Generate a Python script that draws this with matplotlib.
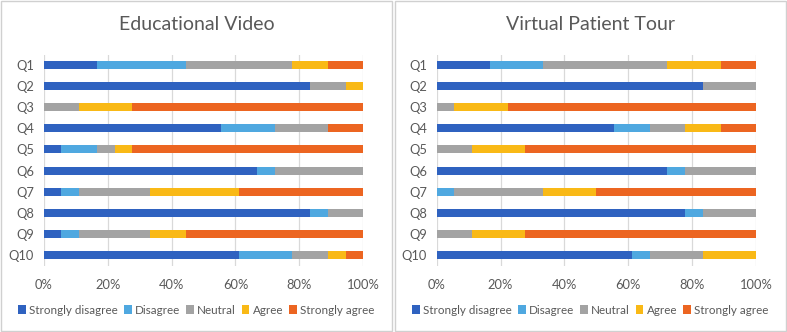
import numpy as np
import matplotlib
matplotlib.use("Agg")
import matplotlib.pyplot as plt
from matplotlib.patches import Rectangle
from matplotlib import ticker

plt.rcParams["font.family"] = ["Lato", "DejaVu Sans"]

questions = ["Q1", "Q2", "Q3", "Q4", "Q5", "Q6", "Q7", "Q8", "Q9", "Q10"]
responses = ["Strongly disagree", "Disagree", "Neutral", "Agree", "Strongly agree"]
colours = ["#2F62C0", "#4FA8E0", "#A3A3A3", "#F9B916", "#EC6521"]

# response counts per question (n = 18), columns follow `responses`
video_counts = [
    [3, 5, 6, 2, 2],
    [15, 0, 2, 1, 0],
    [0, 0, 2, 3, 13],
    [10, 3, 3, 0, 2],
    [1, 2, 1, 1, 13],
    [12, 1, 5, 0, 0],
    [1, 1, 4, 5, 7],
    [15, 1, 2, 0, 0],
    [1, 1, 4, 2, 10],
    [11, 3, 2, 1, 1],
]
tour_counts = [
    [3, 3, 7, 3, 2],
    [15, 0, 3, 0, 0],
    [0, 0, 1, 3, 14],
    [10, 2, 2, 2, 2],
    [0, 0, 2, 3, 13],
    [13, 1, 4, 0, 0],
    [0, 1, 5, 3, 9],
    [14, 1, 3, 0, 0],
    [0, 0, 2, 3, 13],
    [11, 1, 3, 3, 0],
]

W, H = 787, 332
TEXT = "#595959"
GRID = "#D9D9D9"


def draw_panel(fig, counts, title, x0, x1, ax_left, ax_right):
    # panel frame
    fig.patches.append(
        Rectangle((x0 / W, 1 / H), (x1 - x0) / W, (H - 2) / H,
                  transform=fig.transFigure, fill=False,
                  edgecolor="#D0D0D0", linewidth=1.0)
    )
    ax = fig.add_axes([ax_left / W, (H - 265.5) / H,
                       (ax_right - ax_left) / W, 211 / H])
    data = np.array(counts, dtype=float)
    share = data / data.sum(axis=1, keepdims=True)
    y = np.arange(len(questions))
    left = np.zeros(len(questions))
    for i, name in enumerate(responses):
        ax.barh(y, share[:, i], left=left, height=0.38,
                color=colours[i], label=name, zorder=3)
        left += share[:, i]

    ax.set_xlim(0, 1)
    ax.set_ylim(len(questions) - 0.5, -0.5)
    ax.set_yticks(y)
    ax.set_yticklabels(questions)
    ax.xaxis.set_major_locator(ticker.MultipleLocator(0.2))
    ax.xaxis.set_major_formatter(ticker.PercentFormatter(1.0, decimals=0))
    ax.tick_params(axis="both", length=0, labelsize=9.3, colors=TEXT)
    ax.tick_params(axis="x", pad=10)
    ax.tick_params(axis="y", pad=7)
    ax.grid(axis="x", color=GRID, linewidth=0.9, zorder=0)
    for s in ax.spines.values():
        s.set_visible(False)

    cx = (x0 + x1) / 2 / W
    fig.text(cx, 1 - 25 / H, title, ha="center", va="center",
             fontsize=14, color=TEXT)
    ax.legend(loc="center", bbox_to_anchor=(cx, 1 - 310 / H),
              bbox_transform=fig.transFigure, ncol=5, frameon=False,
              fontsize=8.4, labelcolor=TEXT, handlelength=0.65,
              handleheight=0.7, handletextpad=0.3, columnspacing=0.5)
    return ax


fig = plt.figure(figsize=(W / 100, H / 100), dpi=100)
draw_panel(fig, video_counts, "Educational Video", 1, 392, 43.7, 363.3)
draw_panel(fig, tour_counts, "Virtual Patient Tour", 395, 786, 436.7, 756.0)
fig.savefig("out.png", dpi=100)
